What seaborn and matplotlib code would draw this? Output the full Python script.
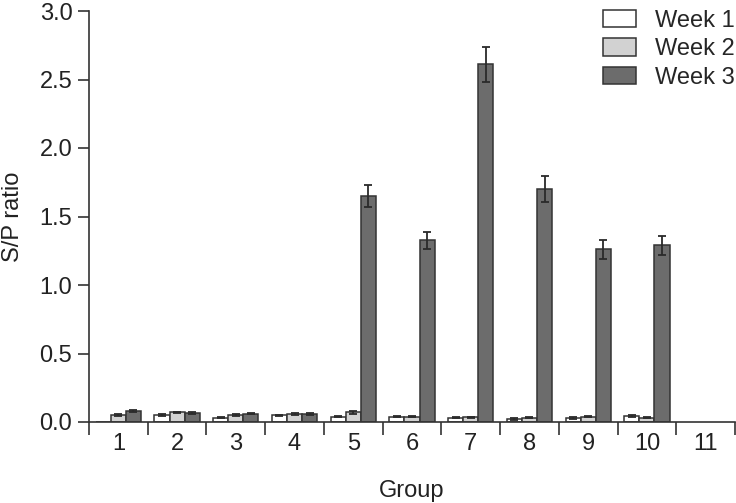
import numpy as np
import pandas as pd
import matplotlib
matplotlib.use("Agg")
import matplotlib.pyplot as plt
import seaborn as sns

groups = [str(i) for i in range(1, 12)]
week_names = ["Week 1", "Week 2", "Week 3"]
week1 = [0.0, 0.05, 0.03, 0.05, 0.04, 0.04, 0.03, 0.022, 0.03, 0.045, np.nan]
week2 = [0.05, 0.07, 0.05, 0.06, 0.07, 0.04, 0.035, 0.03, 0.04, 0.03, np.nan]
week3 = [0.08, 0.065, 0.06, 0.06, 1.65, 1.325, 2.61, 1.70, 1.26, 1.29, np.nan]
err1 = [0.0, 0.006, 0.004, 0.004, 0.005, 0.005, 0.004, 0.004, 0.005, 0.008, np.nan]
err2 = [0.008, 0.006, 0.006, 0.007, 0.008, 0.004, 0.004, 0.004, 0.006, 0.004, np.nan]
err3 = [0.008, 0.007, 0.004, 0.007, 0.082, 0.06, 0.127, 0.097, 0.068, 0.068, np.nan]
colors = ["#ffffff", "#d2d2d2", "#6c6c6c"]

rows = []
for wk, vals, errs in zip(week_names, [week1, week2, week3], [err1, err2, err3]):
    for g, v, e in zip(groups, vals, errs):
        if not np.isnan(v):
            rows.append({"Group": g, "Week": wk, "ratio": v, "err": e})
df = pd.DataFrame(rows)

sns.set_style("ticks")
plt.rcParams["font.family"] = ["Liberation Sans", "DejaVu Sans"]

fig = plt.figure(figsize=(7.36, 5.03), dpi=100)
ax = fig.add_axes([89 / 736, 81 / 503, 646 / 736, 411 / 503])

sns.barplot(data=df, x="Group", y="ratio", hue="Week", order=groups,
            hue_order=week_names, palette=colors, width=0.77,
            edgecolor="#333333", linewidth=1.1, errorbar=None, ax=ax,
            saturation=1)

err_lookup = {(r.Group, r.Week): (r.ratio, r.err) for r in df.itertuples()}
for cont, wk in zip(ax.containers, week_names):
    for bar in cont:
        cx = bar.get_x() + bar.get_width() / 2
        gi = int(round(cx))
        key = (groups[gi], wk)
        if key in err_lookup:
            v, e = err_lookup[key]
            if v > 0 and e > 0:
                ax.errorbar(cx, v, yerr=e, fmt="none", ecolor="#2a2a2a",
                            elinewidth=1.3, capsize=3.2, capthick=1.3, zorder=5)

ax.set_xlim(-0.5, len(groups) - 0.5)
ax.set_ylim(0, 3.0)
ax.set_yticks(np.arange(0, 3.01, 0.5))
ax.set_yticklabels([f"{t:.1f}" for t in np.arange(0, 3.01, 0.5)])
ax.set_xticks(range(len(groups)))
ax.set_xticklabels(groups)
ax.set_xticks(np.arange(-0.5, len(groups)), minor=True)
ax.tick_params(axis="x", which="major", length=0, pad=8, labelsize=17, colors="#222222")
ax.tick_params(axis="x", which="minor", length=9, width=1.2, color="#333333")
ax.tick_params(axis="y", length=8, width=1.2, color="#333333", labelsize=17,
               labelcolor="#222222", pad=4)

for s in ["top", "right"]:
    ax.spines[s].set_visible(False)
for s in ["left", "bottom"]:
    ax.spines[s].set_linewidth(1.2)
    ax.spines[s].set_color("#333333")

ax.set_xlabel("Group", fontsize=17, color="#222222", labelpad=18)
ax.set_ylabel("S/P ratio", fontsize=17, color="#222222", labelpad=11)

handles, labels = ax.get_legend_handles_labels()
ax.legend(handles, labels, loc="upper left", bbox_to_anchor=(598 / 736, 1 - 5 / 503),
          bbox_transform=fig.transFigure, frameon=False, fontsize=17,
          handlelength=1.4, handleheight=0.75, handletextpad=0.8,
          labelspacing=0.28, borderpad=0.2, borderaxespad=0.0)

fig.savefig("out.png", dpi=100)
